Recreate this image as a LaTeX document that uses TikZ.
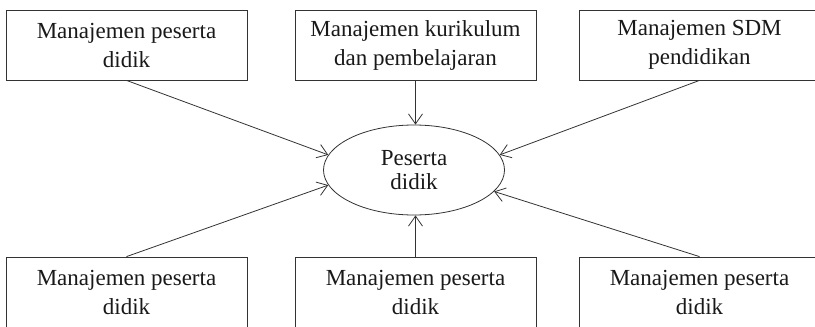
\documentclass[tikz,border=0pt]{standalone}
\usepackage{fontspec}
\setmainfont{Liberation Serif}
\usetikzlibrary{arrows.meta,shapes.geometric}
\begin{document}
\begin{tikzpicture}[x=1pt,y=-1pt,
  every node/.style={font=\fontsize{23}{29}\selectfont, text=black!90},
  boxnode/.style={draw=black!80, line width=0.8pt, minimum width=241pt, minimum height=70pt, inner sep=0pt, align=center},
  centre/.style={draw=black!80, line width=0.8pt, ellipse, minimum width=181pt, minimum height=90pt, inner sep=0pt, align=center, font=\fontsize{23}{23.5}\selectfont},
  conn/.style={draw=black!80, line width=0.8pt, -{Straight Barb[length=10pt,width=14pt,line width=0.8pt]}}]
\useasboundingbox (0,0) rectangle (815,327);
\node[boxnode] (tl) at (126.5,45) {Manajemen peserta\\didik};
\node[boxnode] (tm) at (415.5,45) {Manajemen kurikulum\\dan pembelajaran};
\node[boxnode] (tr) at (699.5,45) {Manajemen SDM\\pendidikan};
\node[boxnode] (bl) at (126.5,292) {Manajemen peserta\\didik};
\node[boxnode] (bm) at (415.5,292) {Manajemen peserta\\didik};
\node[boxnode] (br) at (699.5,292) {Manajemen peserta\\didik};
\node[centre] (c) at (414,170) {Peserta\\didik};
\draw[conn] (tl.south) -- (c.170);
\draw[conn] (tm.south) -- (c.north -| tm.south);
\draw[conn] (tr.south) -- (c.10);
\draw[conn] (bl.north) -- (c.190);
\draw[conn] (bm.north) -- (c.south -| bm.north);
\draw[conn] (br.north) -- (c.345);
\end{tikzpicture}
\end{document}
